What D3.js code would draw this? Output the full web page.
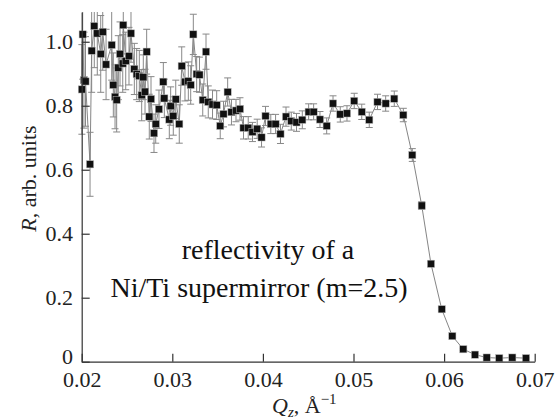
<!DOCTYPE html>
<html>
<head>
<meta charset="utf-8">
<script src="https://cdn.jsdelivr.net/npm/d3@7"></script>
<style>
  body { margin: 0; background: #fff; }
  svg { display: block; }
  .tick text { font-family: "Liberation Serif", "Times New Roman", Times, serif; font-size: 22px; fill: #222; }
  .domain, .tick line { stroke: #333; stroke-width: 1.2px; }
</style>
</head>
<body>
<svg id="chart" width="556" height="419"></svg>
<script>
// Q_z values, Å^-1
const qValues = [
  0.02002, 0.02011, 0.02025, 0.02042, 0.02092, 0.02110, 0.02139, 0.02172, 0.02210, 0.02232,
  0.02269, 0.02331, 0.02349, 0.02368, 0.02386, 0.02404, 0.02423, 0.02453, 0.02459, 0.02486,
  0.02522, 0.02544, 0.02581, 0.02607, 0.02636, 0.02662, 0.02680, 0.02699, 0.02717, 0.02746,
  0.02765, 0.02798, 0.02817, 0.02853, 0.02901, 0.02912, 0.02967, 0.02982, 0.03011, 0.03038,
  0.03077, 0.03104, 0.03140, 0.03177, 0.03203, 0.03232, 0.03269, 0.03300, 0.03336, 0.03372,
  0.03397, 0.03444, 0.03490, 0.03529, 0.03565, 0.03611, 0.03653, 0.03703, 0.03747, 0.03786,
  0.03838, 0.03885, 0.03937, 0.03985, 0.04029, 0.04087, 0.04140, 0.04194, 0.04255, 0.04313,
  0.04371, 0.04435, 0.04505, 0.04560, 0.04630, 0.04704, 0.04774, 0.04854, 0.04928, 0.05008,
  0.05091, 0.05174, 0.05265, 0.05355, 0.05450, 0.05550, 0.05649, 0.05753, 0.05855, 0.05974,
  0.06091, 0.06212, 0.06341, 0.06470, 0.06609, 0.06753, 0.06904
];
// reflectivity R, arb. units
const rValues = [
  0.851, 1.023, 0.880, 0.876, 0.617, 0.972, 1.049, 1.026, 0.962, 1.031,
  0.929, 0.990, 0.865, 0.828, 0.818, 0.919, 0.962, 0.932, 1.052, 0.940,
  0.955, 1.026, 0.915, 0.899, 0.893, 0.833, 0.889, 0.844, 0.969, 0.766,
  0.821, 0.714, 0.743, 0.789, 0.875, 0.823, 0.757, 0.799, 0.768, 0.820,
  0.743, 0.924, 0.875, 0.877, 0.865, 1.023, 0.899, 0.897, 0.818, 0.969,
  0.812, 0.804, 0.802, 0.737, 0.774, 0.843, 0.780, 0.785, 0.790, 0.731,
  0.731, 0.718, 0.728, 0.701, 0.768, 0.743, 0.743, 0.712, 0.766, 0.752,
  0.748, 0.756, 0.781, 0.781, 0.757, 0.737, 0.807, 0.773, 0.776, 0.815,
  0.781, 0.756, 0.812, 0.807, 0.822, 0.771, 0.646, 0.488, 0.306, 0.164,
  0.080, 0.039, 0.022, 0.013, 0.011, 0.013, 0.011
];
// error bar half-widths
const rErrors = [
  0.14, 0.14, 0.15, 0.14, 0.10, 0.13, 0.13, 0.13, 0.12, 0.12,
  0.11, 0.11, 0.10, 0.10, 0.10, 0.10, 0.10, 0.09, 0.09, 0.09,
  0.09, 0.09, 0.08, 0.08, 0.08, 0.08, 0.07, 0.07, 0.07, 0.07,
  0.07, 0.06, 0.06, 0.06, 0.06, 0.06, 0.06, 0.06, 0.06, 0.06,
  0.06, 0.06, 0.06, 0.06, 0.06, 0.063, 0.055, 0.055, 0.05, 0.055,
  0.05, 0.045, 0.045, 0.04, 0.04, 0.044, 0.04, 0.035, 0.035, 0.035,
  0.035, 0.03, 0.03, 0.03, 0.03, 0.03, 0.03, 0.03, 0.03, 0.028,
  0.028, 0.028, 0.025, 0.025, 0.025, 0.025, 0.024, 0.024, 0.024, 0.024,
  0.024, 0.024, 0.024, 0.024, 0.024, 0.021, 0.02, 0.012, 0.008, 0.006,
  0.004, 0.003, 0.002, 0.002, 0.002, 0.002, 0.002
];
const xTicks = [0.02, 0.03, 0.04, 0.05, 0.06, 0.07];
const yTicks = [0, 0.2, 0.4, 0.6, 0.8, 1.0];
const noteLines = ["reflectivity of a", "Ni/Ti supermirror (m=2.5)"];

const serif = "'Liberation Serif', 'Times New Roman', Times, serif";
const svg = d3.select("#chart");
const x = d3.scaleLinear().domain([0.02, 0.07]).range([81.7, 534.7]);
const y = d3.scaleLinear().domain([0, 1.093]).range([361.7, 12]);

const points = qValues.map((q, i) => ({q: q, r: rValues[i], e: rErrors[i]}));

svg.append("clipPath").attr("id", "plot-clip")
  .append("rect").attr("x", 70).attr("y", 12).attr("width", 480).attr("height", 360);

const plot = svg.append("g").attr("clip-path", "url(#plot-clip)");

// connecting line
plot.append("path")
  .datum(points)
  .attr("fill", "none")
  .attr("stroke", "#777")
  .attr("stroke-width", 0.9)
  .attr("d", d3.line().x(d => x(d.q)).y(d => y(d.r)));

// error bars
const eb = plot.selectAll(".eb").data(points).enter().append("g")
  .attr("stroke", "#888").attr("stroke-width", 1);
eb.append("line")
  .attr("x1", d => x(d.q)).attr("x2", d => x(d.q))
  .attr("y1", d => y(d.r - d.e)).attr("y2", d => y(d.r + d.e));
eb.append("line")
  .attr("x1", d => x(d.q) - 3.5).attr("x2", d => x(d.q) + 3.5)
  .attr("y1", d => y(d.r - d.e)).attr("y2", d => y(d.r - d.e));
eb.append("line")
  .attr("x1", d => x(d.q) - 3.5).attr("x2", d => x(d.q) + 3.5)
  .attr("y1", d => y(d.r + d.e)).attr("y2", d => y(d.r + d.e));

// markers
plot.selectAll(".pt").data(points).enter().append("rect")
  .attr("x", d => x(d.q) - 3.6).attr("y", d => y(d.r) - 3.6)
  .attr("width", 7.2).attr("height", 7.2)
  .attr("fill", "#111")
  .attr("stroke", "#bbb").attr("stroke-width", 0.5);

// axes, ticks pointing inward
svg.append("g")
  .attr("transform", "translate(0,361.7)")
  .attr("font-family", serif)
  .call(d3.axisBottom(x).tickValues(xTicks).tickFormat(d3.format(".2f"))
    .tickSizeInner(-8).tickSizeOuter(0).tickPadding(10));

const yAxis = svg.append("g")
  .attr("transform", "translate(81.7,0)")
  .attr("font-family", serif)
  .call(d3.axisLeft(y).tickValues(yTicks).tickFormat(d => d === 0 ? "0" : d.toFixed(1))
    .tickSizeInner(-8).tickSizeOuter(0).tickPadding(8.7));
// the "0" label sits a touch higher in the reference
yAxis.selectAll(".tick text").filter(d => d === 0).attr("dy", "0.1em");

// axis titles
const xt = svg.append("text")
  .attr("x", 272).attr("y", 413)
  .attr("font-family", serif).attr("font-size", 22).attr("fill", "#222");
xt.append("tspan").attr("font-style", "italic").text("Q");
xt.append("tspan").attr("font-style", "italic").attr("font-size", 15).attr("dy", 4).text("z");
xt.append("tspan").attr("dy", -4).text(", Å");
xt.append("tspan").attr("font-size", 15).attr("dy", -9).text("−1");

const yt = svg.append("text")
  .attr("transform", "translate(36,178.5) rotate(-90)")
  .attr("text-anchor", "middle")
  .attr("font-family", serif).attr("font-size", 22).attr("fill", "#222");
yt.append("tspan").attr("font-style", "italic").text("R");
yt.append("tspan").text(", arb. units");

// annotation
svg.selectAll(".note").data(noteLines).enter().append("text")
  .attr("x", (d, i) => i === 0 ? 268 : 259)
  .attr("y", (d, i) => 259 + i * 38)
  .attr("text-anchor", "middle")
  .attr("font-family", serif).attr("font-size", 28).attr("fill", "#111")
  .text(d => d);
</script>
</body>
</html>
